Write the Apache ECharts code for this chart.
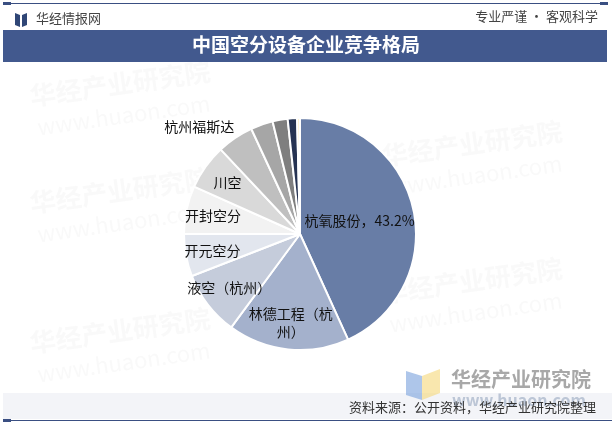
<!DOCTYPE html>
<html><head><meta charset="utf-8">
<script src="https://cdn.jsdelivr.net/npm/echarts@6/dist/echarts.min.js"></script>
<style>html,body{margin:0;padding:0;background:#fff;}#c{width:612px;height:425px;}</style>
</head><body><div id="c"></div>
<script>
var titleText = '中国空分设备企业竞争格局';
var sourceText = '资料来源：公开资料，华经产业研究院整理';
var companies = ['杭氧股份','林德工程（杭州）','液空（杭州）','开元空分','开封空分','川空','杭州福斯达','其他企业一','其他企业二','其他企业三','其他企业四'];
var shares = [43.2, 16.9, 9.0, 5.9, 6.7, 6.3, 5.1, 3.1, 2.1, 1.3, 0.4];
var sliceColors = ['#687DA6','#A4B1CC','#C5CCDB','#E2E6EE','#F2F2F2','#D9D9D9','#BFBFBF','#A6A6A6','#7F7F7F','#263352','#FFF2CC'];

var FONT = '"Noto Sans CJK SC", "Noto Sans", sans-serif';
var mainLabelIdx = 0;        // inside label with percentage
var outerLabelIdx = 6;       // outside label
var ringLabelIdx = [1,2,3,4,5]; // inside labels placed farther out

var chart = echarts.init(document.getElementById('c'), null, {renderer:'canvas'});

var mainData = companies.map(function(n,i){
  var d = {name:n, value:shares[i], itemStyle:{color:sliceColors[i]}};
  if (i === mainLabelIdx) {
    d.label = {show:true, position:'inside', formatter:'{b}，{c}%', color:'#111', fontSize:14, fontFamily:FONT};
  } else if (i === outerLabelIdx) {
    d.label = {show:true, position:'outside', formatter:'{b}', color:'#111', fontSize:14, fontFamily:FONT};
    d.labelLine = {show:false, length:14, length2:-12};
  } else {
    d.label = {show:false};
  }
  return d;
});
var ringData = companies.map(function(n,i){
  var d = {name:n, value:shares[i], itemStyle:{color:'rgba(0,0,0,0)', borderWidth:0}};
  d.label = {show: ringLabelIdx.indexOf(i) >= 0};
  return d;
});

function wm(x,y){
  return [
    {type:'text', left:x, top:y, rotation:0.14, z:0, style:{text:'华经产业研究院', fill:'rgba(170,170,170,0.07)', font:'bold 26px '+FONT}},
    {type:'text', left:x+8, top:y+34, rotation:0.14, z:0, style:{text:'www.huaon.com', fill:'rgba(170,170,170,0.07)', font:'22px '+FONT}}
  ];
}
var graphics = [];
graphics = graphics.concat(wm(28,58), wm(28,165), wm(28,305), wm(380,118), wm(380,255));
graphics = graphics.concat([
  // top line
  {type:'rect', shape:{x:3,y:3,width:605,height:1}, style:{fill:'#3A4F82'}},
  {type:'rect', shape:{x:3,y:2,width:8,height:3}, style:{fill:'#3A4F82'}},
  {type:'rect', shape:{x:600,y:2,width:8,height:3}, style:{fill:'#3A4F82'}},
  // logo icon
  {type:'polygon', shape:{points:[[15,13],[20,15],[20,27],[15,25]]}, style:{fill:'#2F4676'}},
  {type:'polygon', shape:{points:[[27,13],[22,15],[22,27],[27,25]]}, style:{fill:'#2F4676'}},
  {type:'text', left:36, top:12, style:{text:'华经情报网', fill:'#444', font:'13px '+FONT}},
  {type:'text', right:14, top:10, style:{text:'专业严谨 • 客观科学', fill:'#444', font:'13px '+FONT}},
  // title bar
  {type:'rect', shape:{x:3,y:30,width:604,height:32}, style:{fill:'#42598E'}},
  {type:'text', left:'center', top:35, style:{text:titleText, fill:'#fff', font:'bold 19px '+FONT}},
  // bottom band
  {type:'rect', shape:{x:3,y:393,width:609,height:26}, style:{fill:'#F3F4F8'}},
  // bottom logo
  {type:'polygon', shape:{points:[[406,371],[422,376],[422,400],[406,395]]}, style:{fill:'rgba(120,160,220,0.6)'}},
  {type:'polygon', shape:{points:[[422,376],[440,369],[440,393],[422,400]]}, style:{fill:'rgba(245,215,120,0.6)'}},
  {type:'text', left:451, top:369, style:{text:'华经产业研究院', fill:'#A8A8A8', font:'bold 20px '+FONT}},
  {type:'text', left:452, top:392, style:{text:'www.huaon.com', fill:'#BCC6D6', font:'bold 16px '+FONT}},
  {type:'text', right:16, top:401, z:10, style:{text:sourceText, fill:'#333', font:'13px '+FONT}},
  // bottom line
  {type:'rect', shape:{x:3,y:420,width:609,height:1}, style:{fill:'#3A4F82'}},
  {type:'rect', shape:{x:3,y:419,width:8,height:3}, style:{fill:'#3A4F82'}}
]);

chart.setOption({
  backgroundColor:'#fff',
  animation:false,
  graphic: graphics,
  series:[
    {
      type:'pie', center:[300,234], radius:[0,116], startAngle:90, clockwise:true,
      avoidLabelOverlap:false,
      itemStyle:{borderColor:'#fff', borderWidth:2},
      label:{show:false},
      labelLine:{show:false},
      data: mainData
    },
    {
      type:'pie', center:[300,234], radius:[0,172], startAngle:90, clockwise:true,
      silent:true, avoidLabelOverlap:false,
      label:{position:'inside', formatter:'{b}', color:'#111', fontSize:14, fontFamily:FONT,
             width:86, overflow:'break', lineHeight:18},
      labelLine:{show:false},
      data: ringData
    }
  ]
});
</script></body></html>
